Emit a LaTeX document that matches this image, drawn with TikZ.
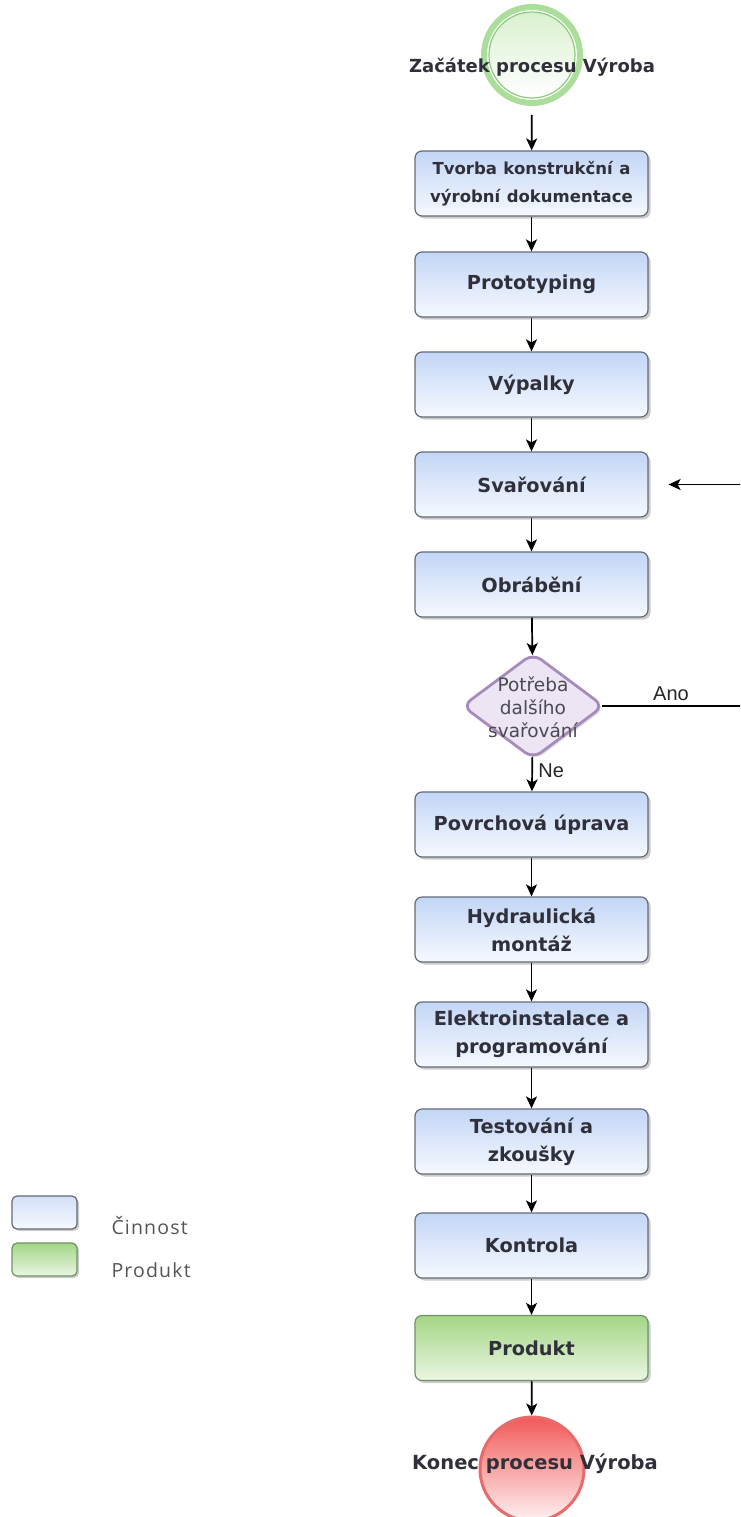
\documentclass[tikz,border=0pt]{standalone}
\usepackage{fontspec}
\setmainfont{DejaVu Sans}
\newfontfamily\labelfont{Liberation Sans}
\newfontfamily\legendfont[LetterSpace=6]{Open Sans}
\usetikzlibrary{shapes.geometric,shadows,arrows.meta,calc}

\definecolor{txt}{HTML}{30303A}
\definecolor{taskTop}{HTML}{C3D6F6}
\definecolor{taskBot}{HTML}{F6F9FF}
\definecolor{taskLine}{HTML}{646B78}
\definecolor{prodTop}{HTML}{A3D686}
\definecolor{prodBot}{HTML}{EBF6E3}
\definecolor{prodLine}{HTML}{6E9466}
\definecolor{decFill}{HTML}{EDE5F3}
\definecolor{decLine}{HTML}{A68CBA}
\definecolor{decTxt}{HTML}{4A4A52}
\definecolor{startRing}{HTML}{ABDE9B}
\definecolor{startInner}{HTML}{8CCB7E}
\definecolor{startTop}{HTML}{D9F1CF}
\definecolor{endTop}{HTML}{F25A5A}
\definecolor{endBot}{HTML}{FFF1F1}
\definecolor{endLine}{HTML}{E86A6A}
\definecolor{legTxt}{HTML}{555555}

\tikzset{
  box/.style={draw=taskLine, line width=1.2pt, rounded corners=7pt,
    minimum width=233pt, minimum height=65pt, text width=228pt,
    align=center, inner sep=0pt, text=txt,
    drop shadow={shadow xshift=2.5pt, shadow yshift=-2.5pt, fill=black!40},
    font=\bfseries\fontsize{19.3}{28}\selectfont},
  task/.style={box, top color=taskTop, bottom color=taskBot},
  product/.style={box, draw=prodLine, top color=prodTop, bottom color=prodBot},
  decision/.style={diamond, draw=decLine, line width=2.8pt, rounded corners=10pt,
    fill=decFill, minimum width=142pt, minimum height=106pt, inner sep=0pt,
    drop shadow={shadow xshift=2pt, shadow yshift=-2pt, fill=black!25}},
  dectext/.style={align=center, text=decTxt, inner sep=0pt,
    font=\fontsize{18.5}{23}\selectfont},
  eventlabel/.style={text=txt, font=\bfseries\fontsize{18}{22}\selectfont},
  branchlabel/.style={font=\labelfont\fontsize{20}{24}\selectfont, text=black!85},
  legendbox/.style={draw=taskLine, line width=1.2pt, rounded corners=5pt,
    minimum width=65pt, minimum height=33pt, inner sep=0pt,
    drop shadow={shadow xshift=2pt, shadow yshift=-2pt, fill=black!40}},
  legendtext/.style={anchor=west, text=legTxt,
    font=\legendfont\fontsize{19.5}{22}\selectfont},
  flow/.style={-{Stealth[length=12pt,width=11pt,inset=3pt]}, line width=1.7pt},
}

\begin{document}
\begin{tikzpicture}[x=1pt, y=-1pt]
\useasboundingbox (0,0) rectangle (740,1517);
\clip (0,0) rectangle (740,1517);

% start event
\node[circle, draw=startRing, line width=6pt, minimum size=96pt, inner sep=0pt]
  (start) at (532,55) {};
\node[circle, draw=startInner, line width=1.2pt, minimum size=86pt, inner sep=0pt,
  top color=startTop, bottom color=white] (startin) at (start.center) {};
\node[eventlabel] (startlbl) at (532,67) {Začátek procesu Výroba};

% activities
\node[task] (doc)   at (531.5,183.5) {\fontsize{16.5}{26}\selectfont Tvorba konstrukční a\\výrobní dokumentace};
\node[task] (proto) at (531.5,284.5) {Prototyping};
\node[task] (cut)   at (531.5,384.5) {Výpalky};
\node[task] (weld)  at (531.5,484.5) {Svařování};
\node[task] (mach)  at (531.5,584.5) {Obrábění};
\node[decision] (dec) at (533,706) {};
\node[dectext] (dectxt) at (533,707) {Potřeba\\dalšího\\svařování};
\node[task] (surf)  at (531.5,824.5) {Povrchová úprava};
\node[task] (hydr)  at (531.5,929.5) {Hydraulická\\montáž};
\node[task] (elec)  at (531.5,1034.5) {Elektroinstalace a\\programování};
\node[task] (test)  at (531.5,1141.5) {Testování a\\zkoušky};
\node[task] (check) at (531.5,1245.5) {Kontrola};
\node[product] (prod) at (531.5,1348) {Produkt};

% end event
\node[circle, draw=endLine, line width=3pt, minimum size=104pt, inner sep=0pt,
  top color=endTop, bottom color=endBot] (end) at (532,1469) {};
\node[eventlabel, font=\bfseries\fontsize{19.5}{22}\selectfont] (endlbl) at (535,1464) {Konec procesu Výroba};

% sequence flow
\draw[flow, shorten <=9pt] (start) -- (doc);
\draw[flow] (doc) -- (proto);
\draw[flow] (proto) -- (cut);
\draw[flow] (cut) -- (weld);
\draw[flow] (weld) -- (mach);
\draw[flow, shorten >=-3pt] (mach) -- (dec);
\draw[flow, shorten <=-3pt] (dec) -- node[branchlabel, right=2pt, pos=0.35] {Ne} (surf);
\draw[flow] (surf) -- (hydr);
\draw[flow] (hydr) -- (elec);
\draw[flow] (elec) -- (test);
\draw[flow] (test) -- (check);
\draw[flow] (check) -- (prod);
\draw[flow] (prod) -- (end);

% loop back to welding
\coordinate (weldin) at ($(weld.east)+(20,0)$);
\draw[flow, shorten <=-3pt] (dec.east) -- ++(175,0) |- (weldin);
\node[branchlabel] (ano) at (671,694) {Ano};

% legend
\node[legendbox, top color=taskTop!75, bottom color=taskBot] (legA) at (44.5,1212.5) {};
\node[legendbox, draw=prodLine, top color=prodTop, bottom color=prodBot] (legB) at (44.5,1259.5) {};
\node[legendtext] (legAt) at (108,1226) {Činnost};
\node[legendtext] (legBt) at (108,1270) {Produkt};
\end{tikzpicture}
\end{document}
